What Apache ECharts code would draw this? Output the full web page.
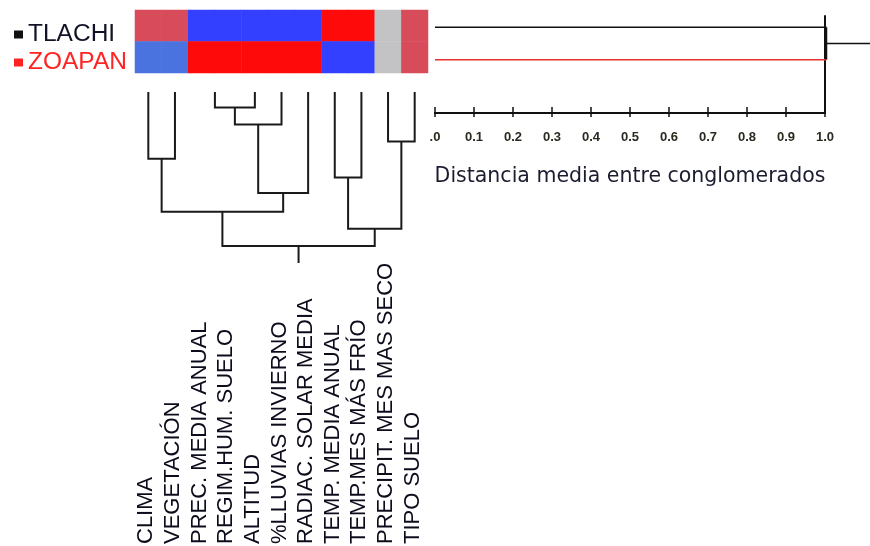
<!DOCTYPE html>
<html><head><meta charset="utf-8">
<script src="https://cdn.jsdelivr.net/npm/echarts@6/dist/echarts.min.js"></script>
<style>html,body{margin:0;padding:0;background:#fff}#c{width:870px;height:546px}</style>
</head><body><div id="c"></div>
<script>
// ---------- data ----------
const variables = ['CLIMA','VEGETACIÓN','PREC. MEDIA ANUAL','REGIM.HUM. SUELO','ALTITUD','%LLUVIAS INVIERNO','RADIAC. SOLAR MEDIA','TEMP. MEDIA ANUAL','TEMP.MES MÁS FRÍO','PRECIPIT. MES MAS SECO','TIPO SUELO'];
const sites = ['TLACHI','ZOAPAN'];
const tlachiValues = [0.6,0.6,-1,-1,-1,-1,-1,1,1,0,0.6];
const zoapanValues = [-0.8,-0.8,1,1,1,1,1,-1,-1,0,0.6];
// variable dendrogram linkage: [left node, right node, merge height]
const varLinkage = [[0,1,0.39],[2,3,0],[12,4,0.09],[13,5,0.19],[14,6,0.59],[11,15,0.70],[7,8,0.50],[9,10,0.29],[17,18,0.80],[16,19,0.90]];
const siteMergeDistance = 1.008;
const distanceTicks = [0,0.1,0.2,0.3,0.4,0.5,0.6,0.7,0.8,0.9,1.0];
const axisTitle = 'Distancia media entre conglomerados';

// ---------- build ----------
const heatData = [];
[tlachiValues, zoapanValues].forEach((row, r) => row.forEach((v, c) => heatData.push([c, r, v])));

const n = variables.length;
const pos = variables.map((_, i) => i);
const hgt = variables.map(() => 0);
const dendroLines = [];
varLinkage.forEach(([a, b, h]) => {
  pos.push((pos[a] + pos[b]) / 2);
  hgt.push(h);
  if (h > 0) dendroLines.push({coords: [[pos[a], hgt[a]], [pos[a], h], [pos[b], h], [pos[b], hgt[b]]]});
});
const root = pos.length - 1;
dendroLines.push({coords: [[pos[root], hgt[root]], [pos[root], 1]]});

const FONT = 'Liberation Sans';
const chart = echarts.init(document.getElementById('c'), null, {renderer: 'canvas'});
chart.setOption({
  animation: false,
  backgroundColor: '#fff',
  legend: {
    orient: 'vertical', left: 9, top: 17, itemGap: 3, icon: 'rect', itemWidth: 9, itemHeight: 8,
    textStyle: {fontFamily: FONT, fontSize: 24.5},
    data: [{name: 'TLACHI', textStyle: {color: '#121226'}}, {name: 'ZOAPAN', textStyle: {color: '#ff2424'}}]
  },
  visualMap: {
    type: 'piecewise', show: false, seriesIndex: 0, dimension: 2,
    pieces: [
      {value: 1, color: '#ff0a0a'}, {value: -1, color: '#3340ff'}, {value: 0.6, color: '#d84b5b'},
      {value: -0.8, color: '#4a73e0'}, {value: 0, color: '#c3c2c5'}
    ]
  },
  grid: [
    {left: 135, top: 10, width: 293, height: 63},
    {left: 135, top: 92, width: 293, height: 171},
    {left: 435, top: 11, width: 437, height: 65},
    {left: 435, top: 16, width: 390, height: 97},
    {left: 133, top: 544, width: 293, height: 2}
  ],
  xAxis: [
    {gridIndex: 0, type: 'category', data: variables, show: false},
    {gridIndex: 1, type: 'value', min: -0.5, max: n - 0.5, show: false},
    {gridIndex: 2, type: 'value', min: 0, max: 1.12, show: false},
    {gridIndex: 3, type: 'value', position: 'bottom', min: 0, max: 1, interval: 0.1,
      axisLine: {onZero: false, lineStyle: {color: '#111', width: 2}},
      axisTick: {inside: true, length: 6, lineStyle: {color: '#111', width: 1.5}},
      axisLabel: {show: false}, splitLine: {show: false}},
    {gridIndex: 3, type: 'value', position: 'bottom', offset: 0, min: 0, max: 1, interval: 0.1,
      axisLine: {onZero: false, lineStyle: {color: '#111', width: 2}},
      axisTick: {length: 4, lineStyle: {color: '#111', width: 1.5}},
      axisLabel: {margin: 18, fontFamily: FONT, fontSize: 13, fontWeight: 'bold', color: '#2a2a20',
        formatter: v => { const i = distanceTicks.findIndex(t => Math.abs(t - v) < 1e-9); return i === 0 ? '.0' : distanceTicks[i].toFixed(1); }},
      splitLine: {show: false},
      name: axisTitle, nameLocation: 'middle', nameGap: 53,
      nameTextStyle: {fontFamily: 'DejaVu Sans', fontSize: 20.5, color: '#1c1c30'}},
    {gridIndex: 4, type: 'category', data: variables, position: 'top',
      axisLine: {show: false}, axisTick: {show: false},
      axisLabel: {rotate: 90, interval: 0, margin: 0, fontFamily: FONT, fontSize: 22, color: '#0c0c1c'}}
  ],
  yAxis: [
    {gridIndex: 0, type: 'category', data: sites, inverse: true, show: false},
    {gridIndex: 1, type: 'value', min: 0, max: 1, inverse: true, show: false},
    {gridIndex: 2, type: 'value', min: -0.5, max: 1.5, inverse: true, show: false},
    {gridIndex: 3, type: 'value', position: 'right', min: 0, max: 1,
      axisLine: {show: true, onZero: false, lineStyle: {color: '#111', width: 2}}, axisTick: {show: false},
      axisLabel: {show: false}, splitLine: {show: false}},
    {gridIndex: 4, type: 'value', show: false}
  ],
  series: [
    {type: 'heatmap', xAxisIndex: 0, yAxisIndex: 0, data: heatData, silent: true},
    {type: 'lines', coordinateSystem: 'cartesian2d', xAxisIndex: 1, yAxisIndex: 1, polyline: true, silent: true,
      lineStyle: {color: '#1a1a1a', width: 2, opacity: 1}, data: dendroLines},
    {name: 'TLACHI', type: 'line', xAxisIndex: 2, yAxisIndex: 2, symbol: 'none', silent: true, color: '#111',
      lineStyle: {color: '#111', width: 1.5}, data: [[0, 0], [siteMergeDistance, 0]]},
    {name: 'ZOAPAN', type: 'line', xAxisIndex: 2, yAxisIndex: 2, symbol: 'none', silent: true, color: '#ff2424',
      lineStyle: {color: '#e83030', width: 1.5}, data: [[0, 1], [siteMergeDistance, 1]]},
    {type: 'lines', coordinateSystem: 'cartesian2d', xAxisIndex: 2, yAxisIndex: 2, polyline: true, silent: true,
      lineStyle: {color: '#111', width: 1.5, opacity: 1},
      data: [{coords: [[siteMergeDistance, 0], [siteMergeDistance, 1]]}, {coords: [[siteMergeDistance, 0.5], [1.12, 0.5]]}]}
  ]
});
</script></body></html>
